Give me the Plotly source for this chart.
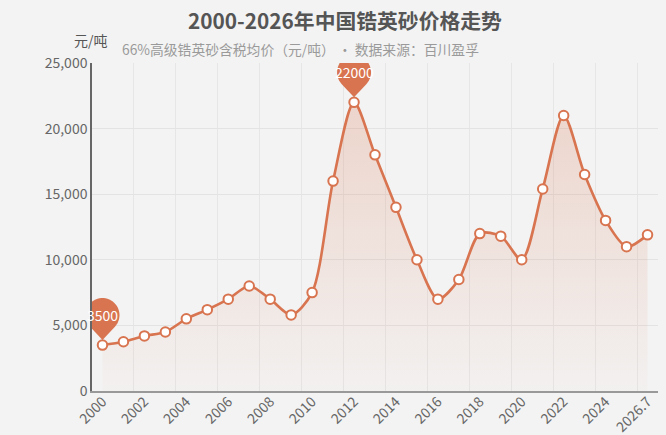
import numpy as np
import plotly.graph_objects as go

years = ["2000", "2001", "2002", "2003", "2004", "2005", "2006", "2007", "2008", "2009",
         "2010", "2011", "2012", "2013", "2014", "2015", "2016", "2017", "2018", "2019",
         "2020", "2021", "2022", "2023", "2024", "2025", "2026.7"]
prices = [3500, 3750, 4200, 4500, 5500, 6200, 7000, 8000, 7000, 5800,
          7500, 16000, 22000, 18000, 14000, 10000, 7000, 8500, 12000, 11800,
          10000, 15400, 21000, 16500, 13000, 11000, 11900]
tick_labels = years[::2]

title_text = "2000-2026年中国锆英砂价格走势"
subtitle_text = "66%高级锆英砂含税均价（元/吨） · 数据来源：百川盈孚"
unit_text = "元/吨"

LINE = "#d8744f"
FONT = "Noto Sans CJK SC"

fig = go.Figure()
fig.add_trace(go.Scatter(
    x=years, y=prices, mode="lines+markers",
    line=dict(color=LINE, width=2.6, shape="spline", smoothing=0.8),
    marker=dict(size=9.5, color="white", line=dict(color=LINE, width=2)),
    fill="tozeroy",
    fillgradient=dict(type="vertical", start=0, stop=max(prices),
                      colorscale=[[0, "rgba(216,116,79,0.02)"], [1, "rgba(216,116,79,0.24)"]]),
    hoverinfo="x+y", showlegend=False,
))

# pin (markPoint) shape path in pixels relative to the data point
r, cy, tip = 17.0, 30.0, 5.0
d = cy - tip
beta = np.arccos(r / d)
a0 = -np.pi / 2 + beta
a1 = 3 * np.pi / 2 - beta
angs = np.linspace(a0, a1, 40)
pts = [(0.0, tip)] + [(r * np.cos(a), cy + r * np.sin(a)) for a in angs]
pin_path = "M " + " L ".join(f"{px:.2f},{py:.2f}" for px, py in pts) + " Z"

imax = int(np.argmax(prices))
imin = int(np.argmin(prices))
for i in (imax, imin):
    fig.add_shape(type="path", path=pin_path, xref="x", yref="y",
                  xsizemode="pixel", ysizemode="pixel",
                  xanchor=i, yanchor=prices[i],
                  fillcolor=LINE, line=dict(width=0), layer="above")
    fig.add_annotation(x=i, y=prices[i], xref="x", yref="y",
                       text=str(prices[i]), showarrow=False,
                       yshift=cy, xanchor="center", yanchor="middle",
                       font=dict(family=FONT, size=14, color="white"))

fig.add_annotation(xref="paper", yref="paper", x=(345 - 92) / 566, y=1.0, yshift=43,
                   xanchor="center", yanchor="middle",
                   text=f"<b>{title_text}</b>", showarrow=False,
                   font=dict(family=FONT, size=20.8, color="#555555"))
fig.add_annotation(xref="paper", yref="paper", x=(300 - 92) / 566, y=1.0, yshift=14,
                   xanchor="center", yanchor="middle",
                   text=subtitle_text, showarrow=False,
                   font=dict(family=FONT, size=13.8, color="#9a9a9a"))
fig.add_annotation(xref="paper", yref="paper", x=(110 - 92) / 566, y=1.0, yshift=23,
                   xanchor="right", yanchor="middle",
                   text=unit_text, showarrow=False,
                   font=dict(family=FONT, size=14, color="#555555"))

fig.update_layout(
    width=666, height=435,
    margin=dict(l=92, r=8, t=63, b=44, autoexpand=False),
    paper_bgcolor="#f3f3f3", plot_bgcolor="#f3f3f3",
    font=dict(family=FONT, size=14, color="#666666"),
    xaxis=dict(type="category", range=[-0.5, len(years) - 0.5], automargin=False,
               tickmode="array", tickvals=tick_labels, ticktext=tick_labels,
               tickson="boundaries", tickangle=-45, ticklabelstandoff=-5,
               showgrid=True, gridcolor="#e6e6e6", gridwidth=1,
               showline=True, linecolor="#999999", linewidth=2,
               ticks="", zeroline=False,
               tickfont=dict(family=FONT, size=14, color="#666666")),
    yaxis=dict(range=[0, 25000], dtick=5000, tickformat=",", automargin=False,
               showgrid=True, gridcolor="#e3e3e3", gridwidth=1,
               showline=True, linecolor="#666666", linewidth=1.5,
               ticks="", zeroline=False,
               tickfont=dict(family=FONT, size=14, color="#666666")),
)

fig.write_html("out.html", config={"displayModeBar": False},
               post_script="document.body.style.margin='0';document.body.style.overflow='hidden';")
